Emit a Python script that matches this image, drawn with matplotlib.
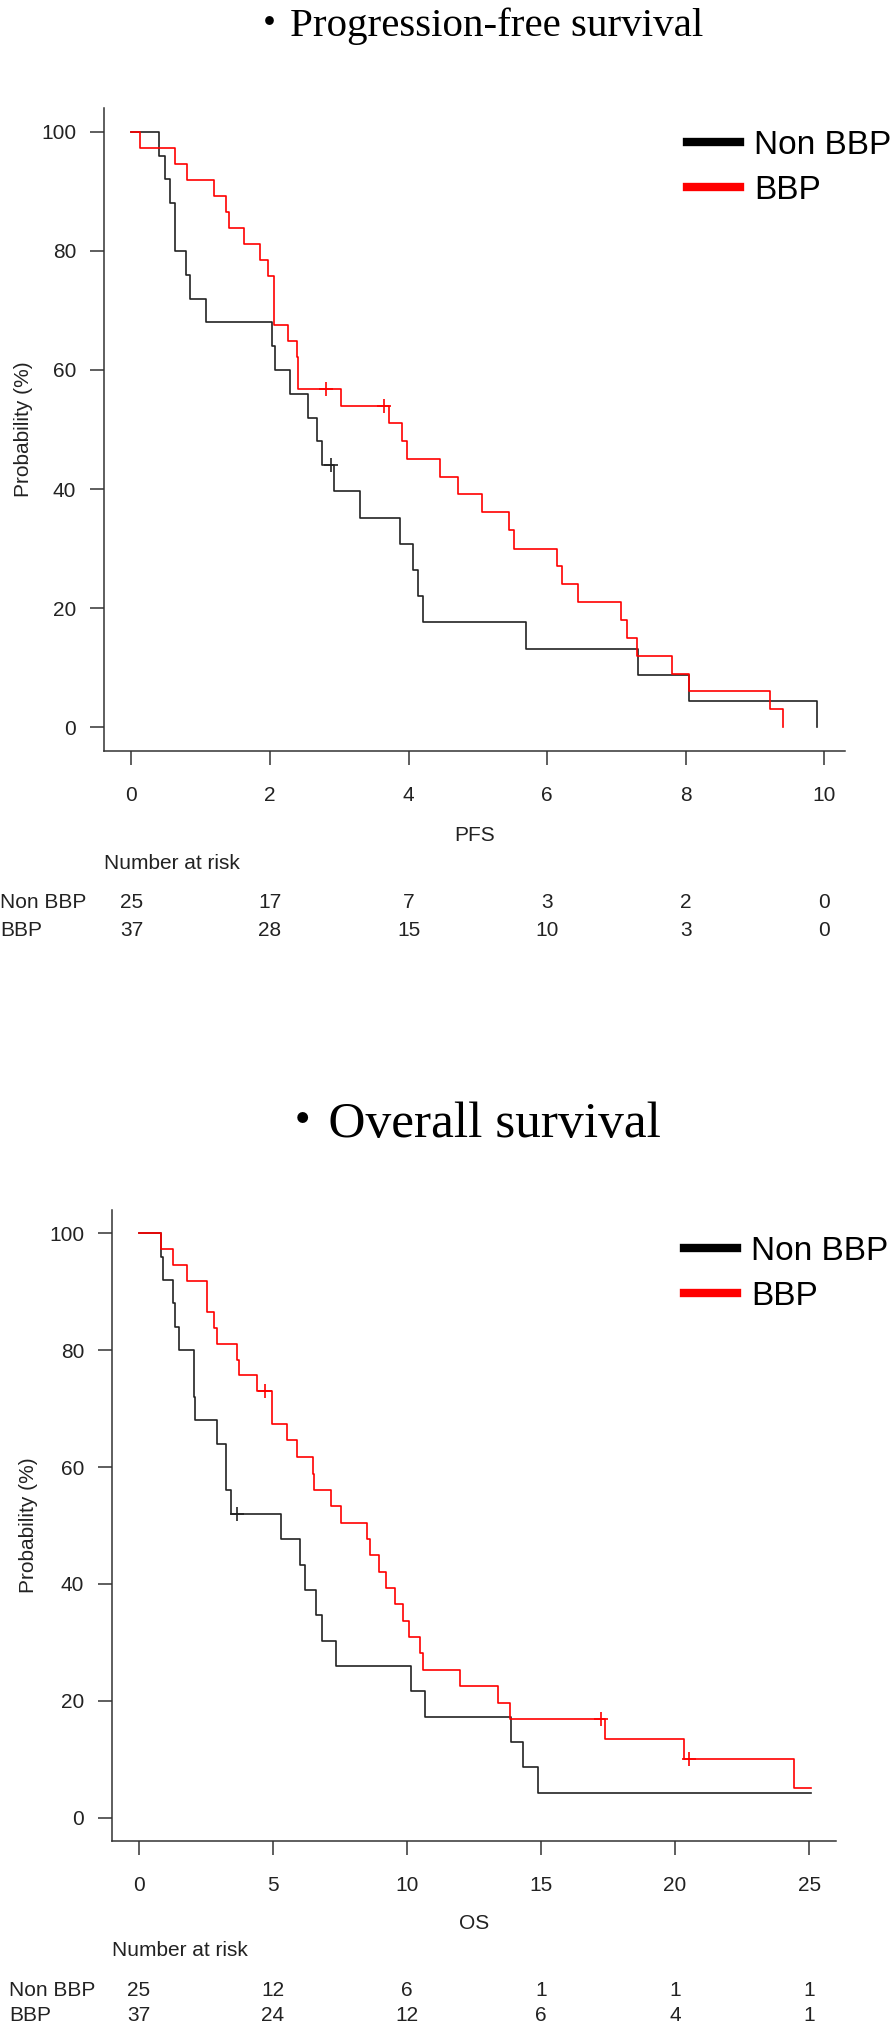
import numpy as np
import matplotlib
matplotlib.use("Agg")
import matplotlib.pyplot as plt
from matplotlib.lines import Line2D
from matplotlib.transforms import blended_transform_factory

plt.rcParams['font.family'] = ['Liberation Sans', 'DejaVu Sans']

# ---- PFS curves ----
pfs_non_t = [0, 0.40, 0.48, 0.56, 0.63, 0.78, 0.85, 1.08, 2.03, 2.07, 2.29, 2.55, 2.68, 2.75,
             2.92, 3.30, 3.87, 4.06, 4.14, 4.21, 5.69, 7.31, 8.04, 9.89]
pfs_non_s = [100, 96, 92, 88, 80, 76, 72, 68, 64, 60, 56, 52, 48, 44,
             39.6, 35.2, 30.8, 26.4, 22.0, 17.6, 13.2, 8.8, 4.4, 0]
pfs_non_ct = [2.88]
pfs_non_cs = [44]

pfs_bbp_t = [0, 0.12, 0.63, 0.80, 1.19, 1.36, 1.41, 1.63, 1.85, 1.97, 2.06, 2.26, 2.39, 2.41,
             3.03, 3.72, 3.90, 3.98, 4.45, 4.71, 5.06, 5.45, 5.52, 6.14, 6.21, 6.45, 7.06,
             7.15, 7.30, 7.80, 8.04, 9.22, 9.40]
pfs_bbp_s = [100, 97.3, 94.6, 91.9, 89.2, 86.5, 83.8, 81.1, 78.4, 75.7, 67.6, 64.9, 62.2, 56.8,
             53.9, 51.1, 48.1, 45.1, 42.1, 39.1, 36.1, 33.1, 30.0, 27.0, 24.0, 21.0, 18.0,
             15.0, 12.0, 9.0, 6.0, 3.0, 0]
pfs_bbp_ct = [2.81, 3.65]
pfs_bbp_cs = [56.8, 53.9]

# ---- OS curves ----
os_non_t = [0, 0.84, 0.92, 1.26, 1.34, 1.48, 2.06, 2.10, 2.90, 3.27, 3.45, 5.30, 6.00, 6.20,
            6.60, 6.85, 7.35, 10.15, 10.67, 13.88, 14.32, 14.90, 25.07]
os_non_s = [100, 96, 92, 88, 84, 80, 72, 68, 64, 56, 52, 47.7, 43.3, 39.0,
            34.7, 30.3, 26.0, 21.7, 17.3, 13.0, 8.7, 4.3, 4.3]
os_non_ct = [3.65]
os_non_cs = [52]

os_bbp_t = [0, 0.84, 1.29, 1.80, 2.54, 2.81, 2.91, 3.68, 3.72, 4.39, 4.95, 5.52, 5.91, 6.48,
            6.54, 7.18, 7.55, 8.50, 8.62, 8.95, 9.20, 9.55, 9.85, 10.09, 10.49, 10.58, 11.98,
            13.38, 13.86, 17.39, 20.32, 24.45, 25.07]
os_bbp_s = [100, 97.3, 94.6, 91.9, 86.5, 83.8, 81.1, 78.4, 75.7, 73.0, 67.4, 64.6, 61.7, 58.9,
            56.1, 53.3, 50.5, 47.7, 44.9, 42.1, 39.3, 36.5, 33.7, 30.9, 28.1, 25.3, 22.5,
            19.7, 16.8, 13.5, 10.1, 5.1, 5.1]
os_bbp_ct = [4.70, 17.24, 20.50]
os_bbp_cs = [73.0, 16.8, 10.1]

# ---- number at risk ----
pfs_ticks = [0, 2, 4, 6, 8, 10]
pfs_risk_non = [25, 17, 7, 3, 2, 0]
pfs_risk_bbp = [37, 28, 15, 10, 3, 0]
os_ticks = [0, 5, 10, 15, 20, 25]
os_risk_non = [25, 12, 6, 1, 1, 1]
os_risk_bbp = [37, 24, 12, 6, 4, 1]
groups = ["Non BBP", "BBP"]
y_ticks = [0, 20, 40, 60, 80, 100]

W, H = 895, 2026
fig = plt.figure(figsize=(W / 100, H / 100), dpi=100)
fig.patch.set_facecolor('white')

def px(l, t, r, b):
    return [l / W, 1 - b / H, (r - l) / W, (b - t) / H]

def panel(rect, xlim, ticks, non, bbp, xlab, ylab_x, risk_rows, risk_non, risk_bbp, leg_pos):
    ax = fig.add_axes(px(*rect))
    ax.step(non[0], non[1], where='post', color='#222222', lw=1.2)
    ax.plot(non[2], non[3], '+', color='#222222', ms=10, mew=1.2)
    ax.step(bbp[0], bbp[1], where='post', color='red', lw=1.2)
    ax.plot(bbp[2], bbp[3], '+', color='red', ms=10, mew=1.2)
    ax.set_xlim(*xlim)
    ax.set_ylim(-4, 104)
    ax.set_xticks(ticks)
    ax.set_yticks(y_ticks)
    for s in ['top', 'right']:
        ax.spines[s].set_visible(False)
    for s in ['left', 'bottom']:
        ax.spines[s].set_color('#333333')
        ax.spines[s].set_linewidth(1.1)
    ax.tick_params(axis='x', length=10, width=1.1, color='#333333', pad=15,
                   labelsize=15, labelcolor='#222222')
    ax.tick_params(axis='y', length=10, width=1.1, color='#333333', pad=10,
                   labelsize=15, labelcolor='#222222')
    ax.text(0.5, -0.131, xlab, transform=ax.transAxes, ha='center', va='center',
            fontsize=15, color='#222222')
    ax.text(ylab_x, 0.5, "Probability (%)", transform=ax.transAxes, rotation=90,
            ha='center', va='center', fontsize=15, color='#222222')
    handles = [Line2D([], [], color='black', lw=6), Line2D([], [], color='red', lw=6)]
    ax.legend(handles, groups, loc='upper left', bbox_to_anchor=(leg_pos[0] / W, 1 - leg_pos[1] / H),
              bbox_transform=fig.transFigure, frameon=False, fontsize=24, borderpad=0,
              borderaxespad=0, handlelength=1.6, handletextpad=0.42, labelspacing=0.42)
    tr = blended_transform_factory(ax.transData, fig.transFigure)
    y0, y1, y2, lab_x = risk_rows
    fig.text(rect[0] / W, 1 - y0 / H, "Number at risk", ha='left', va='center',
             fontsize=15, color='#222222')
    fig.text(lab_x / W, 1 - y1 / H, groups[0], ha='left', va='center', fontsize=15, color='#222222')
    fig.text(lab_x / W, 1 - y2 / H, groups[1], ha='left', va='center', fontsize=15, color='#222222')
    for t, a, b in zip(ticks, risk_non, risk_bbp):
        ax.text(t, 1 - y1 / H, str(a), transform=tr, ha='center', va='center', fontsize=15, color='#222222')
        ax.text(t, 1 - y2 / H, str(b), transform=tr, ha='center', va='center', fontsize=15, color='#222222')
    return ax

panel((104, 108, 845, 751), (-0.396, 10.296), pfs_ticks,
      (pfs_non_t, pfs_non_s, pfs_non_ct, pfs_non_cs),
      (pfs_bbp_t, pfs_bbp_s, pfs_bbp_ct, pfs_bbp_cs),
      "PFS", -0.109, (863, 902, 931, 0), pfs_risk_non, pfs_risk_bbp, (687, 130))

panel((112, 1210, 836, 1841), (-1.0, 26.0), os_ticks,
      (os_non_t, os_non_s, os_non_ct, os_non_cs),
      (os_bbp_t, os_bbp_s, os_bbp_ct, os_bbp_cs),
      "OS", -0.116, (1950, 1990, 2015, 9), os_risk_non, os_risk_bbp, (684, 1236))

title_fonts = ['Liberation Serif', 'Noto Sans CJK JP']
fig.text(476 / W, 1 - 36 / H, "\u30fbProgression-free survival", ha='center', va='baseline',
         fontsize=29.5, family=title_fonts, color='black')
fig.text(469 / W, 1 - 1137 / H, "\u30fbOverall survival", ha='center', va='baseline',
         fontsize=37, family=title_fonts, color='black')

fig.savefig("out.png", dpi=100)
